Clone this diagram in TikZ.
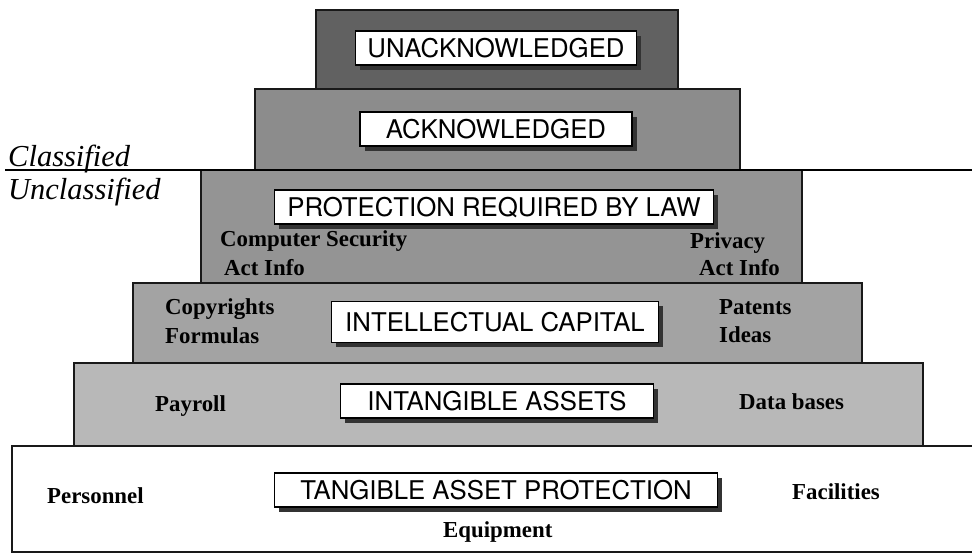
\documentclass[tikz,border=0pt]{standalone}
\usepackage{fontspec}
\newfontfamily\capsfont{TeX Gyre Heros}
\newfontfamily\notefont{Liberation Serif}
\usepackage{xcolor}
\usetikzlibrary{shadows}

\begin{document}
\begin{tikzpicture}[x=0.03cm, y=-0.03cm,
        layer/.style={draw=black!90, line width=1.7pt},
        tier/.style={draw, fill=white, line width=1.3pt, inner sep=0pt,
            font=\capsfont\fontsize{22}{26}\selectfont,
            minimum height=29pt, text height=16pt, text depth=0pt,
            drop shadow={shadow xshift=4pt, shadow yshift=-4pt, fill=black!80, opacity=1}},
        note/.style={anchor=base west, inner sep=0pt, font=\notefont\bfseries\fontsize{19.5}{23}\selectfont},
        side/.style={anchor=base west, inner sep=0pt, font=\notefont\itshape\fontsize{26}{30}\selectfont}]
        \useasboundingbox (0,0) rectangle (972,556);

        % Draw the stacked layers, darkest on top
        \draw[layer, fill=black!62] (316,10) rectangle (678,89);
        \draw[layer, fill=black!45] (255,89) rectangle (740,170);
        \draw[layer, fill=black!42] (201,170) rectangle (802,283);
        \draw[layer, fill=black!36] (133,283) rectangle (862,363);
        \draw[layer, fill=black!28] (74,363) rectangle (923,446);
        \draw[layer, fill=white] (972,446) -- (12,446) -- (12,552) -- (972,552);

        % Add the classified / unclassified split
        \draw[line width=1.2pt] (5,170) -- (972,170);
        \node[side] (classified) at (8,166) {Classified};
        \node[side] (unclassified) at (8,199) {Unclassified};

        % Add the layer titles
        \node[tier, minimum width=240pt] (unack) at (496,48) {UNACKNOWLEDGED};
        \node[tier, minimum width=232pt] (ack) at (496,129) {ACKNOWLEDGED};
        \node[tier, minimum width=375pt] (law) at (494,207) {PROTECTION REQUIRED BY LAW};
        \node[tier, minimum width=279pt, minimum height=35pt] (capital) at (495,322) {INTELLECTUAL CAPITAL};
        \node[tier, minimum width=267pt] (intangible) at (497,401) {INTANGIBLE ASSETS};
        \node[tier, minimum width=378pt] (tangible) at (496,490) {TANGIBLE ASSET PROTECTION};

        % Add the examples on each layer
        \node[note] (compsec) at (220,246) {Computer Security};
        \node[note] (compact) at (224,275) {Act Info};
        \node[note] (privacy) at (690,248) {Privacy};
        \node[note] (privact) at (699,275) {Act Info};
        \node[note] (copyrights) at (165,314) {Copyrights};
        \node[note] (formulas) at (165,343) {Formulas};
        \node[note] (patents) at (719,314) {Patents};
        \node[note] (ideas) at (719,342) {Ideas};
        \node[note] (payroll) at (155,411) {Payroll};
        \node[note] (databases) at (739,409) {Data bases};
        \node[note] (personnel) at (47,503) {Personnel};
        \node[note] (facilities) at (792,499) {Facilities};
        \node[note] (equipment) at (443,537) {Equipment};
    \end{tikzpicture}
\end{document}
